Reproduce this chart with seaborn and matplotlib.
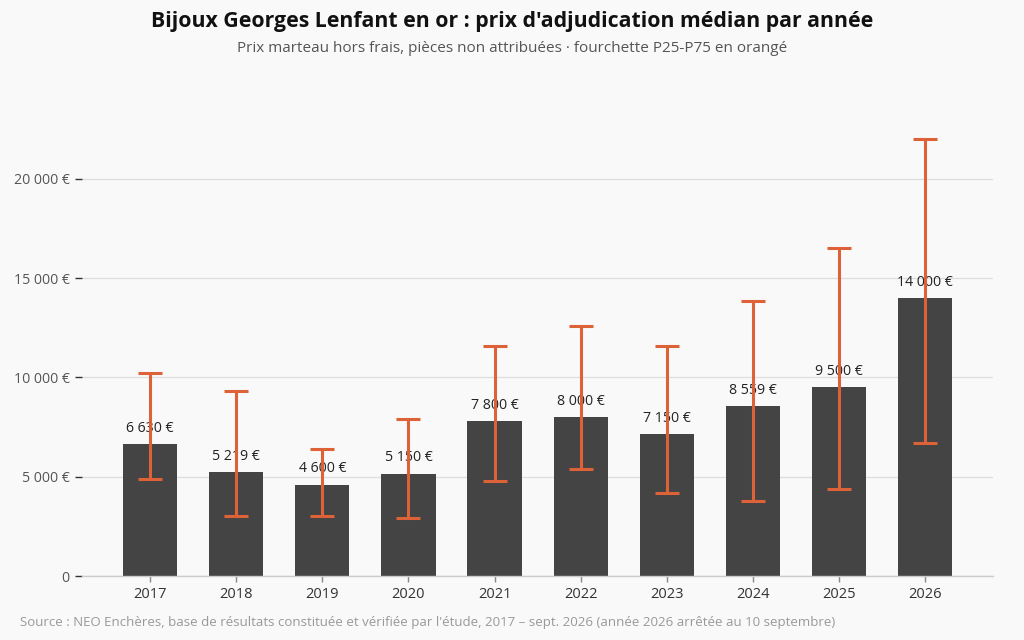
import matplotlib
matplotlib.use("Agg")
import matplotlib.pyplot as plt
import pandas as pd
import seaborn as sns
from matplotlib.ticker import FuncFormatter

# Données
annees = ["2017", "2018", "2019", "2020", "2021", "2022", "2023", "2024", "2025", "2026"]
medianes = [6630, 5219, 4600, 5150, 7800, 8000, 7150, 8559, 9500, 14000]
p25 = [4900, 3000, 3000, 2900, 4800, 5400, 4200, 3800, 4400, 6700]
p75 = [10200, 9300, 6400, 7900, 11600, 12600, 11600, 13850, 16500, 22000]

df = pd.DataFrame({"annee": annees, "mediane": medianes, "p25": p25, "p75": p75})

FOND = "#f9f9f9"
BARRE = "#444444"
ORANGE = "#dd6238"

sns.set_theme(style="white")
plt.rcParams["font.family"] = ["Open Sans", "DejaVu Sans"]

fig = plt.figure(figsize=(10.24, 6.4), dpi=100, facecolor=FOND)
ax = fig.add_axes([0.080, 0.10, 0.890, 0.76])
ax.set_facecolor(FOND)

sns.barplot(data=df, x="annee", y="mediane", color=BARRE, width=0.63,
            saturation=1, linewidth=0, edgecolor=BARRE, ax=ax, zorder=2)

def euro(v, pos=None):
    if v == 0:
        return "0"
    return f"{v:,.0f}".replace(",", " ") + " €"

for i, row in df.iterrows():
    ax.annotate(euro(row["mediane"]), (i, row["mediane"]), xytext=(0, 6),
                textcoords="offset points", ha="center", va="bottom",
                fontsize=10.2, color="#222222", zorder=3)

ax.errorbar(range(len(df)), df["mediane"],
            yerr=[df["mediane"] - df["p25"], df["p75"] - df["mediane"]],
            fmt="none", ecolor=ORANGE, elinewidth=2.2, capsize=8.3,
            capthick=2.2, zorder=4)

ax.set_xlim(-0.79, 9.79)
ax.set_ylim(0, 24500)
ax.set_yticks([0, 5000, 10000, 15000, 20000])
ax.yaxis.set_major_formatter(FuncFormatter(euro))
ax.grid(axis="y", color="#dddddd", linewidth=0.9, zorder=0)
ax.set_axisbelow(True)
ax.set_xlabel("")
ax.set_ylabel("")

for s in ["top", "right", "left"]:
    ax.spines[s].set_visible(False)
ax.spines["bottom"].set_color("#cccccc")
ax.spines["bottom"].set_linewidth(1)

ax.tick_params(axis="y", left=True, length=5, width=1, color="#333333",
               labelsize=10.2, labelcolor="#555555", pad=4)
ax.tick_params(axis="x", bottom=True, length=4, width=1, color="#888888",
               labelsize=10.5, labelcolor="#333333", pad=4)

fig.text(0.5, 0.966, "Bijoux Georges Lenfant en or : prix d'adjudication médian par année",
         ha="center", va="center", fontsize=15.3, fontweight="bold", color="#111111")
fig.text(0.5, 0.924, "Prix marteau hors frais, pièces non attribuées · fourchette P25-P75 en orangé",
         ha="center", va="center", fontsize=11, color="#555555")
fig.text(0.0195, 0.027, "Source : NEO Enchères, base de résultats constituée et vérifiée par l'étude, "
         "2017 – sept. 2026 (année 2026 arrêtée au 10 septembre)",
         ha="left", va="center", fontsize=9.5, color="#999999")

fig.savefig("out.png", dpi=100, facecolor=FOND)
